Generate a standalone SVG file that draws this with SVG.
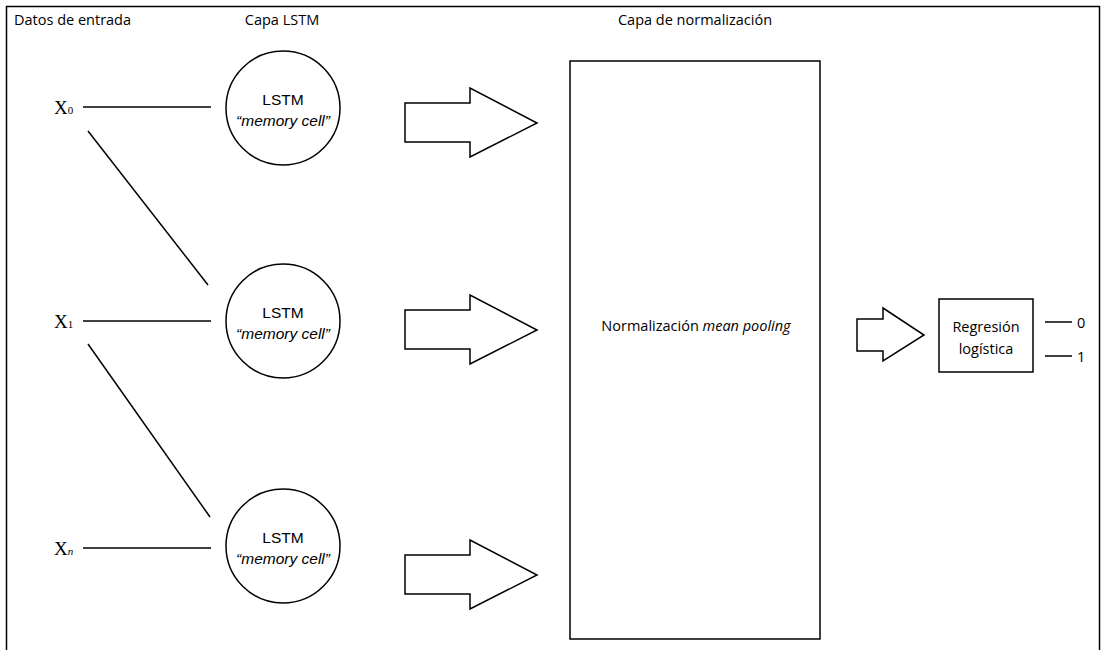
<svg xmlns="http://www.w3.org/2000/svg" width="1103" height="650" viewBox="0 0 1103 650">
<style>
.ln{stroke:#000;stroke-width:1.5;fill:none}
.sh{stroke:#000;stroke-width:1.5;fill:#fff}
.t{font-family:"Open Sans","Noto Sans",sans-serif;font-size:14.5px;fill:#000}
.c{font-family:"Liberation Sans",Arial,sans-serif;font-size:15.5px;fill:#000;text-anchor:middle}
.x{font-family:"Liberation Serif","Times New Roman",serif;font-size:19px;fill:#000}
.sub{font-size:11px}
</style>
<rect x="0" y="0" width="1103" height="650" fill="#fff"/>
<rect id="frame" x="6.5" y="6.5" width="1093" height="660" class="ln"/>
<g id="titles">
<text class="t" x="14" y="25">Datos de entrada</text>
<text class="t" x="282" y="25" text-anchor="middle">Capa LSTM</text>
<text class="t" x="695" y="25" text-anchor="middle">Capa de normalización</text>
</g>
<g id="x0"><text class="x" x="54" y="114">X<tspan class="sub">0</tspan></text></g>
<g id="x1"><text class="x" x="54" y="328">X<tspan class="sub">1</tspan></text></g>
<g id="xn"><text class="x" x="54" y="555">X<tspan class="sub" font-style="italic">n</tspan></text></g>
<g id="connectors">
<line class="ln" x1="83" y1="107" x2="211" y2="107"/>
<line class="ln" x1="88" y1="131" x2="208" y2="285"/>
<line class="ln" x1="83" y1="321" x2="211" y2="321"/>
<line class="ln" x1="88" y1="344" x2="210" y2="517"/>
<line class="ln" x1="83" y1="548" x2="211" y2="548"/>
<line class="ln" x1="1045" y1="322" x2="1072" y2="322"/>
<line class="ln" x1="1045" y1="356" x2="1072" y2="356"/>
</g>
<g id="lstm0">
<circle class="sh" cx="283" cy="108" r="57"/>
<text class="c" x="283" y="105">LSTM</text>
<text class="c" x="283" y="126"><tspan font-style="italic">“memory cell”</tspan></text>
</g>
<g id="lstm1">
<circle class="sh" cx="283" cy="321" r="57"/>
<text class="c" x="283" y="318">LSTM</text>
<text class="c" x="283" y="339"><tspan font-style="italic">“memory cell”</tspan></text>
</g>
<g id="lstmn">
<circle class="sh" cx="283" cy="546" r="57"/>
<text class="c" x="283" y="543">LSTM</text>
<text class="c" x="283" y="564"><tspan font-style="italic">“memory cell”</tspan></text>
</g>
<g id="arrow0"><path class="sh" d="M405,103 H470 V88 L537,123 L470,157 V142 H405 Z"/></g>
<g id="arrow1"><path class="sh" d="M405,310 H470 V295 L537,330 L470,364 V349 H405 Z"/></g>
<g id="arrow2"><path class="sh" d="M405,555 H470 V540 L537,575 L470,609 V594 H405 Z"/></g>
<g id="norm">
<rect class="sh" x="570" y="61" width="250" height="578"/>
<text class="t" x="696" y="331" text-anchor="middle" font-size="18">Normalización <tspan font-style="italic">mean pooling</tspan></text>
</g>
<g id="arrow3"><path class="sh" d="M857,319 H883 V308 L924,335 L883,361 V351 H857 Z"/></g>
<g id="reg">
<rect class="sh" x="939" y="299" width="94" height="73"/>
<text class="t" x="986" y="332" text-anchor="middle" font-size="16">Regresión</text>
<text class="t" x="986" y="354" text-anchor="middle" font-size="16">logística</text>
</g>
<g id="outputs">
<text class="t" x="1077" y="328" font-size="15">0</text>
<text class="t" x="1077" y="362" font-size="15">1</text>
</g>
</svg>
